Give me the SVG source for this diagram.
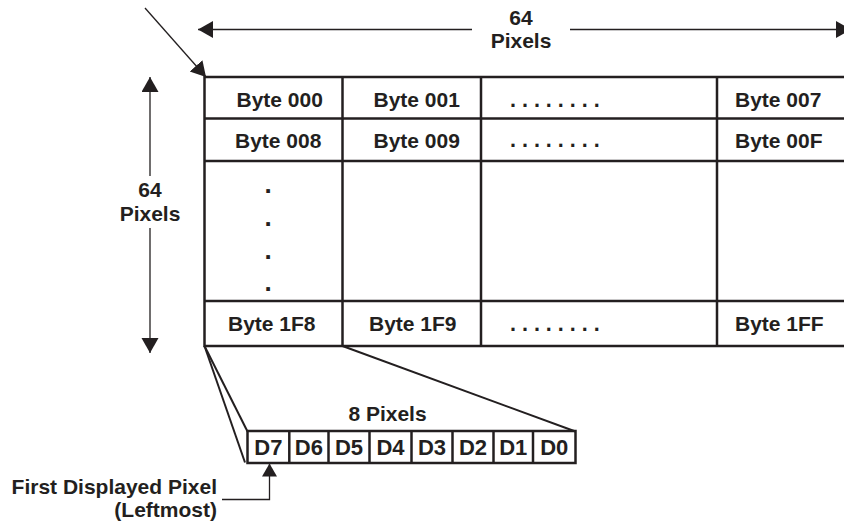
<svg xmlns="http://www.w3.org/2000/svg" width="844" height="527" viewBox="0 0 844 527">
<style>
  text { font-family: "Liberation Sans", Arial, Helvetica, sans-serif; font-weight: bold; fill: #231f20; font-size: 21px; }
  .mid { text-anchor: middle; }
  .end { text-anchor: end; }
  .grid { stroke: #231f20; stroke-width: 2.5; fill: none; }
  .thin { stroke: #231f20; stroke-width: 1.3; fill: none; }
  .fan { stroke: #231f20; stroke-width: 2; fill: none; }
  .d { font-size: 22px; }
  .vdot { font-size: 26px; }
  .hdot { font-size: 21.5px; }
</style>
<defs>
  <marker id="ah" markerUnits="userSpaceOnUse" markerWidth="16" markerHeight="18" refX="15" refY="8.5" orient="auto">
    <path d="M0,0 L15,8.5 L0,17 Z" fill="#231f20"/>
  </marker>
  <marker id="ahs" markerUnits="userSpaceOnUse" markerWidth="14" markerHeight="16" refX="13" refY="7.5" orient="auto">
    <path d="M0,0 L13,7.5 L0,15 Z" fill="#231f20"/>
  </marker>
</defs>
<rect width="844" height="527" fill="#ffffff"/>

<g id="dim-width">
  <line class="thin" x1="472" y1="29.5" x2="198" y2="29.5" marker-end="url(#ah)"/>
  <line class="thin" x1="570" y1="29.5" x2="851" y2="29.5" marker-end="url(#ah)"/>
  <text class="mid" x="521" y="25">64</text>
  <text class="mid" x="521" y="47.5">Pixels</text>
</g>

<g id="dim-height">
  <line class="thin" x1="150" y1="176" x2="150" y2="77" marker-end="url(#ah)"/>
  <line class="thin" x1="150" y1="228" x2="150" y2="353" marker-end="url(#ah)"/>
  <text class="mid" x="150" y="197">64</text>
  <text class="mid" x="150" y="221">Pixels</text>
</g>

<g id="memory-table">
  <rect class="grid" x="204.5" y="77" width="700" height="269"/>
  <line class="grid" x1="204.5" y1="118.5" x2="905" y2="118.5"/>
  <line class="grid" x1="204.5" y1="161" x2="905" y2="161"/>
  <line class="grid" x1="204.5" y1="301" x2="905" y2="301"/>
  <line class="grid" x1="342.5" y1="77" x2="342.5" y2="346"/>
  <line class="grid" x1="481" y1="77" x2="481" y2="346"/>
  <line class="grid" x1="717" y1="77" x2="717" y2="346"/>
  <text x="236.5" y="106.5">Byte 000</text>
  <text x="373.5" y="106.5">Byte 001</text>
  <text class="hdot" x="510" y="106.5">. . . . . . . .</text>
  <text x="735" y="106.5">Byte 007</text>
  <text x="235" y="148">Byte 008</text>
  <text x="373.5" y="148">Byte 009</text>
  <text class="hdot" x="510" y="146.5">. . . . . . . .</text>
  <text x="735" y="148">Byte 00F</text>
  <text class="mid vdot" x="268" y="193">.</text>
  <text class="mid vdot" x="268" y="226">.</text>
  <text class="mid vdot" x="268" y="259">.</text>
  <text class="mid vdot" x="268" y="291">.</text>
  <text x="228" y="330.5">Byte 1F8</text>
  <text x="369" y="330.5">Byte 1F9</text>
  <text class="hdot" x="510" y="330.5">. . . . . . . .</text>
  <text x="735" y="330.5">Byte 1FF</text>
</g>

<g id="bit-byte">
  <text class="mid" x="387.5" y="421">8 Pixels</text>
  <rect class="grid" x="247.5" y="431" width="328" height="32"/>
  <line class="grid" x1="289.3" y1="431" x2="289.3" y2="463"/>
  <line class="grid" x1="328.5" y1="431" x2="328.5" y2="463"/>
  <line class="grid" x1="369.5" y1="431" x2="369.5" y2="463"/>
  <line class="grid" x1="411.5" y1="431" x2="411.5" y2="463"/>
  <line class="grid" x1="452.5" y1="431" x2="452.5" y2="463"/>
  <line class="grid" x1="493.5" y1="431" x2="493.5" y2="463"/>
  <line class="grid" x1="533" y1="431" x2="533" y2="463"/>
  <text class="mid d" x="268.4" y="455">D7</text>
  <text class="mid d" x="308.9" y="455">D6</text>
  <text class="mid d" x="349" y="455">D5</text>
  <text class="mid d" x="390.5" y="455">D4</text>
  <text class="mid d" x="432" y="455">D3</text>
  <text class="mid d" x="473" y="455">D2</text>
  <text class="mid d" x="513.2" y="455">D1</text>
  <text class="mid d" x="554.2" y="455">D0</text>
</g>

<g id="first-pixel-label">
  <text class="end" x="217" y="493.5">First Displayed Pixel</text>
  <text class="end" x="217" y="516.5">(Leftmost)</text>
</g>

<g id="connectors">
  <line class="thin" x1="145" y1="8" x2="206" y2="77" marker-end="url(#ah)"/>
  <line class="fan" x1="204.5" y1="346" x2="247.5" y2="431.5"/>
  <line class="fan" x1="204.5" y1="346" x2="245" y2="462.5"/>
  <line class="fan" x1="342.5" y1="346" x2="575.5" y2="431.5"/>
  <polyline class="thin" points="222,499.5 269.5,499.5 269.5,463.5" marker-end="url(#ahs)"/>
</g>
</svg>
